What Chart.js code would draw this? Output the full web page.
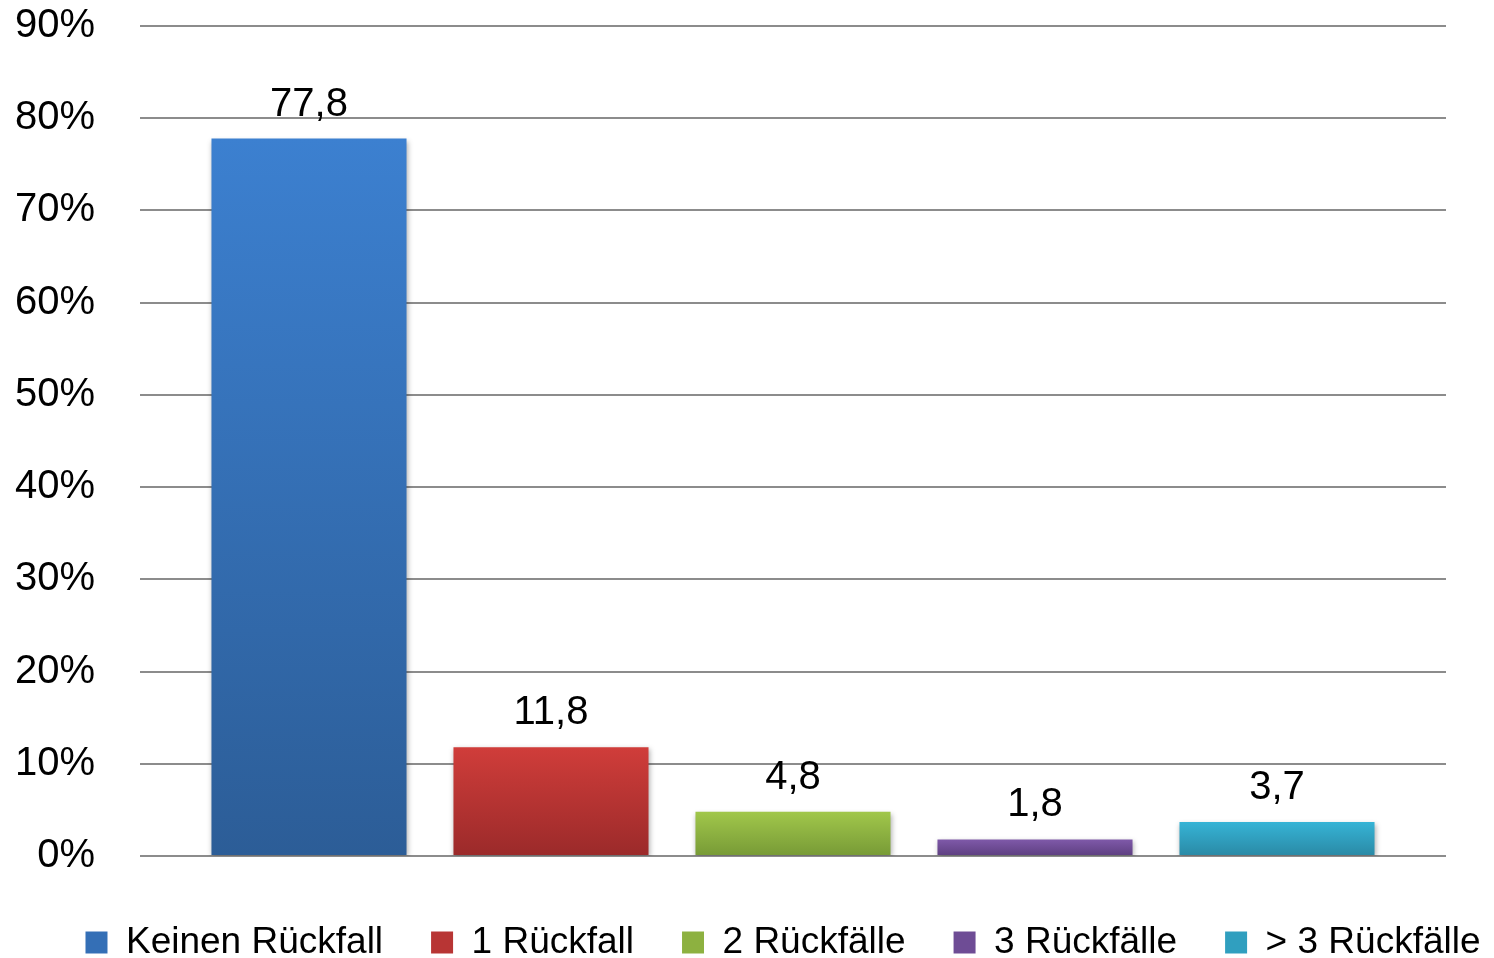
<!DOCTYPE html>
<html>
<head>
<meta charset="utf-8">
<script src="https://cdn.jsdelivr.net/npm/chart.js@4/dist/chart.umd.min.js"></script>
<style>
  html, body { margin: 0; padding: 0; background: #fff; }
  #wrap { width: 1494px; height: 958px; }
</style>
</head>
<body>
<div id="wrap"><canvas id="chart" width="1494" height="958"></canvas></div>
<script>
// Rückfälle (Anteil in %)
const seriesNames = ['Keinen Rückfall', '1 Rückfall', '2 Rückfälle', '3 Rückfälle', '> 3 Rückfälle'];
const seriesValues = [77.8, 11.8, 4.8, 1.8, 3.7];
const valueLabels = ['77,8', '11,8', '4,8', '1,8', '3,7'];
const yTicks = [0, 10, 20, 30, 40, 50, 60, 70, 80, 90];

// gradient colours, top -> bottom
const topColors = ['#3c80d0', '#d03d3a', '#a1c74b', '#7f59a9', '#36b4d6'];
const bottomColors = ['#2c5d97', '#9b2a2a', '#779a36', '#5d3f80', '#2a89a5'];
const midColors = ['#346fb6', '#b83534', '#8db140', '#6e4c95', '#309fbf'];

const FONT = '"Liberation Sans", Arial, sans-serif';

function barGradient(ctx, i) {
    const chart = ctx.chart;
    if (!chart.chartArea || ctx.type !== 'data') return midColors[i];
    const y = chart.scales.y;
    const top = y.getPixelForValue(seriesValues[i]);
    const base = y.getPixelForValue(0);
    const g = chart.ctx.createLinearGradient(0, top, 0, base);
    g.addColorStop(0, topColors[i]);
    g.addColorStop(1, bottomColors[i]);
    return g;
}

// soft shadow under the bars
const barShadow = {
    id: 'barShadow',
    beforeDatasetDraw(chart) {
        const c = chart.ctx;
        c.save();
        c.shadowColor = 'rgba(0,0,0,0.3)';
        c.shadowBlur = 5;
        c.shadowOffsetX = 1;
        c.shadowOffsetY = 2;
    },
    afterDatasetDraw(chart) {
        chart.ctx.restore();
    }
};

// value labels above the bars
const valueLabelPlugin = {
    id: 'valueLabels',
    afterDatasetsDraw(chart) {
        const c = chart.ctx;
        c.save();
        c.font = '40px ' + FONT;
        c.fillStyle = '#000';
        c.textAlign = 'center';
        c.textBaseline = 'alphabetic';
        chart.data.datasets.forEach((ds, i) => {
            const bar = chart.getDatasetMeta(i).data[0];
            c.fillText(valueLabels[i], bar.x, bar.y - 23);
        });
        c.restore();
    }
};

// nudge the legend a bit to the right, like the original
const legendShift = {
    id: 'legendShift',
    afterLayout(chart) {
        if (chart.legend) {
            chart.legend.left += 36;
            chart.legend.right += 36;
        }
    }
};

const datasets = seriesNames.map((name, i) => ({
    label: name,
    data: [seriesValues[i]],
    backgroundColor: ctx => barGradient(ctx, i),
    borderWidth: 0,
    categoryPercentage: 0.9265,
    barPercentage: 0.806
}));

new Chart(document.getElementById('chart'), {
    type: 'bar',
    data: {
        labels: [''],
        datasets: datasets
    },
    plugins: [barShadow, valueLabelPlugin, legendShift],
    options: {
        responsive: false,
        animation: false,
        devicePixelRatio: 1,
        layout: {
            padding: { left: 0, right: 0, top: 26, bottom: -13 }
        },
        plugins: {
            legend: {
                position: 'bottom',
                labels: {
                    boxWidth: 22,
                    boxHeight: 22,
                    padding: 48,
                    color: '#000',
                    font: { family: FONT, size: 37 },
                    generateLabels(chart) {
                        return seriesNames.map((name, i) => ({
                            text: name,
                            fillStyle: midColors[i],
                            strokeStyle: midColors[i],
                            lineWidth: 0,
                            datasetIndex: i,
                            hidden: false
                        }));
                    }
                }
            },
            tooltip: { enabled: false }
        },
        scales: {
            x: {
                display: true,
                grid: { display: false },
                border: { display: false },
                ticks: { display: false },
                afterFit(axis) { axis.height = 20; }
            },
            y: {
                min: 0,
                max: 90,
                afterBuildTicks(axis) {
                    axis.ticks = yTicks.map(v => ({ value: v }));
                },
                afterFit(axis) {
                    axis.width = 140;
                    axis.paddingTop = 0;
                    axis.paddingBottom = 0;
                },
                border: { display: false },
                grid: {
                    color: '#8c8c8c',
                    lineWidth: 2,
                    drawTicks: false
                },
                ticks: {
                    padding: 45,
                    color: '#000',
                    font: { family: FONT, size: 40 },
                    callback: v => v + '%'
                }
            },
            yRight: {
                position: 'right',
                display: true,
                grid: { display: false },
                border: { display: false },
                ticks: { display: false },
                afterFit(axis) {
                    axis.width = 48;
                    axis.paddingTop = 0;
                    axis.paddingBottom = 0;
                }
            }
        }
    }
});
</script>
</body>
</html>
